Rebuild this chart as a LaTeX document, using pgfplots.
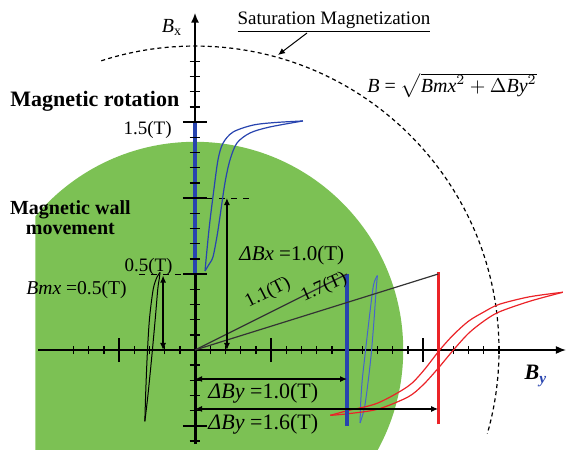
\documentclass[border=0pt]{standalone}
\usepackage{pgfplots}
\pgfplotsset{compat=1.18}
\usepackage{fontspec}
\setmainfont{Liberation Serif}
\usetikzlibrary{arrows.meta}
\definecolor{grn}{RGB}{124,193,84}
\definecolor{bl}{RGB}{40,68,175}
\definecolor{bl2}{RGB}{70,100,205}
\definecolor{rd}{RGB}{235,35,40}
\newcommand\fs[1]{\fontsize{#1}{#1}\selectfont}
\tikzset{ar/.style={{Latex[length=3.5pt,width=3pt]}-{Latex[length=3.5pt,width=3pt]}, line width=0.6pt}}
\begin{document}
\begin{tikzpicture}
\useasboundingbox (0,0) rectangle (284pt,225pt);
\begin{axis}[at={(0,0)}, anchor=south west,
  scale only axis, width=284pt, height=225pt,
  xmin=-1.283, xmax=2.454, ymin=-0.658, ymax=2.303,
  hide axis, clip=false]

% green region
\begin{scope}
  \clip (axis cs:-1.05,-0.658) rectangle (axis cs:1.4,1.4);
  \fill[grn] (axis cs:0,0) circle[radius=1.37];
\end{scope}
% saturation circle
\begin{scope}
  \clip (axis cs:0,0) -- (axis cs:2.295,-0.658) -- (axis cs:2.454,-0.658) -- (axis cs:2.454,2.303) -- (axis cs:-0.748,2.303) -- cycle;
  \draw[dash pattern=on 2pt off 1.6pt, line width=0.6pt] (axis cs:0,0) circle[radius=2.0];
\end{scope}

% axes
\draw[line width=0.6pt, -{Latex[length=5pt,width=4pt]}] (axis cs:-1.03,0) -- (axis cs:2.44,0);
\draw[line width=1.5pt] (axis cs:0,-0.62) -- (axis cs:0,0.5);
\draw[line width=1.6pt, bl] (axis cs:0,0.5) -- (axis cs:0,1.5);
\draw[line width=0.9pt, -{Latex[length=5pt,width=4pt]}] (axis cs:0,1.5) -- (axis cs:0,2.22);
\pgfplotsinvokeforeach{-8,...,20}{
  \draw[line width=0.7pt] (axis cs:#1/10,-0.027) -- (axis cs:#1/10,0.027);
}
\pgfplotsinvokeforeach{-5,5,15}{
  \draw[line width=0.8pt] (axis cs:#1/10,-0.08) -- (axis cs:#1/10,0.08);
}
\pgfplotsinvokeforeach{-6,...,19}{
  \draw[line width=0.7pt] (axis cs:-0.035,#1/10) -- (axis cs:0.035,#1/10);
}
\pgfplotsinvokeforeach{-5,5,10,15}{
  \draw[line width=0.8pt] (axis cs:-0.08,#1/10) -- (axis cs:0.08,#1/10);
}
\draw[dashed, line width=0.5pt] (axis cs:0,1.0) -- (axis cs:0.36,1.0);
\draw[dashed, line width=0.5pt] (axis cs:-0.37,0.5) -- (axis cs:0,0.5);

% Bx loop (black, left)
\addplot[black, line width=0.5pt, smooth] coordinates {
  (-0.33,-0.47) (-0.325,-0.30) (-0.315,-0.05) (-0.30,0.20) (-0.275,0.40) (-0.25,0.48) (-0.23,0.51)};
\addplot[black, line width=0.5pt, smooth] coordinates {
  (-0.33,-0.47) (-0.31,-0.30) (-0.285,-0.05) (-0.262,0.20) (-0.245,0.40) (-0.235,0.47) (-0.23,0.51)};

% upper blue loop
\addplot[bl, line width=0.6pt, smooth] coordinates {
  (0.066,0.52) (0.075,0.62) (0.095,0.82) (0.118,1.007) (0.151,1.25) (0.184,1.36) (0.25,1.434) (0.382,1.48) (0.53,1.497) (0.71,1.507)};
\addplot[bl, line width=0.6pt, smooth] coordinates {
  (0.066,0.52) (0.09,0.56) (0.118,0.612) (0.145,0.75) (0.164,0.875) (0.197,1.099) (0.23,1.25) (0.276,1.362) (0.362,1.428) (0.49,1.467) (0.71,1.507)};

% small blue loop
\addplot[bl2, line width=0.5pt, smooth] coordinates {
  (1.086,-0.48) (1.09,-0.35) (1.10,-0.20) (1.12,-0.02) (1.15,0.24) (1.175,0.43) (1.2,0.49)};
\addplot[bl2, line width=0.5pt, smooth] coordinates {
  (1.086,-0.48) (1.115,-0.38) (1.14,-0.20) (1.16,-0.02) (1.178,0.20) (1.192,0.40) (1.2,0.49)};

% red loop
\addplot[rd, line width=0.6pt, smooth] coordinates {
  (0.89,-0.43) (1.0,-0.40) (1.2,-0.35) (1.4,-0.24) (1.5,-0.14) (1.61,0.0) (1.7,0.10) (1.8,0.19) (1.9,0.25) (2.0,0.30) (2.2,0.35) (2.42,0.38)};
\addplot[rd, line width=0.6pt, smooth] coordinates {
  (0.89,-0.43) (1.0,-0.42) (1.2,-0.39) (1.4,-0.31) (1.5,-0.23) (1.6,-0.12) (1.7,0.0) (1.8,0.11) (1.9,0.19) (2.0,0.25) (2.2,0.32) (2.42,0.38)};

% vertical lines ΔBy
\addplot[bl, line width=1.6pt] coordinates {(1.0,-0.5) (1.0,0.5)};
\addplot[rd, line width=1.6pt] coordinates {(1.6,-0.49) (1.6,0.51)};

% lines from origin
\addplot[black!80, line width=0.6pt] coordinates {(0,0) (1.0,0.5)};
\addplot[black!80, line width=0.6pt] coordinates {(0,0) (1.6,0.5)};

% dimension arrows
\draw[ar] (axis cs:-0.21,0.0) -- (axis cs:-0.21,0.49);
\draw[ar] (axis cs:0.21,0.0) -- (axis cs:0.21,1.0);
\draw[ar] (axis cs:0.0,-0.191) -- (axis cs:1.0,-0.191);
\draw[ar] (axis cs:0.0,-0.388) -- (axis cs:1.6,-0.388);

% texts
\node[font=\fs{10}] at (axis cs:-0.151,2.125) {\textit{B}\textsubscript{x}};
\node[font=\fs{9.5}, inner sep=0pt] at (axis cs:0.914,2.158) {\underline{Saturation Magnetization}};
\draw[line width=0.5pt, -{Latex[length=3.5pt,width=3pt]}] (axis cs:0.737,2.086) -- (axis cs:0.546,1.941);
\node[font=\fs{10}] at (axis cs:1.691,1.743) {\textit{B} = $\sqrt{\textit{Bmx}^{2}+\Delta\textit{By}^{2}}$};
\node[font=\bfseries\fs{11}, anchor=west, inner sep=0pt] at (axis cs:-1.217,1.638) {Magnetic rotation};
\node[font=\fs{9.5}, anchor=east, inner sep=0pt] at (axis cs:-0.151,1.447) {1.5(T)};
\node[font=\bfseries\fs{10}, align=center, inner sep=0pt] at (axis cs:-0.82,0.868) {Magnetic wall\\[0pt]movement};
\node[font=\fs{9.5}, anchor=east, inner sep=0pt] at (axis cs:-0.145,0.546) {0.5(T)};
\node[font=\fs{9.8}, anchor=west, inner sep=0pt] at (axis cs:-1.112,0.395) {\textit{Bmx} =0.5(T)};
\node[font=\fs{10.5}, anchor=west, inner sep=0pt] at (axis cs:0.29,0.625) {\textit{ΔBx} =1.0(T)};
\node[font=\fs{9.5}, rotate=27, inner sep=0pt] at (axis cs:0.48,0.375) {1.1(T)};
\node[font=\fs{9.5}, rotate=24, inner sep=0pt] at (axis cs:0.85,0.41) {1.7(T)};
\node[font=\fs{11}, anchor=west, inner sep=0pt] at (axis cs:0.086,-0.283) {\textit{ΔBy} =1.0(T)};
\node[font=\fs{11}, anchor=west, inner sep=0pt] at (axis cs:0.086,-0.487) {\textit{ΔBy} =1.6(T)};
\node[font=\bfseries\fs{11}] at (axis cs:2.243,-0.171) {\textit{B}\textsubscript{\textit{\color{bl}y}}};
\end{axis}
\end{tikzpicture}
\end{document}
